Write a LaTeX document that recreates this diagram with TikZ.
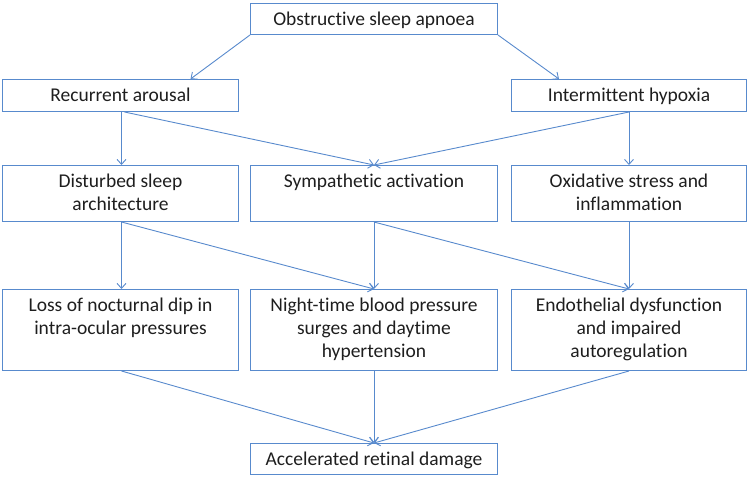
\documentclass[tikz,border=0pt]{standalone}
\usepackage{fontspec}
\setmainfont{Carlito}[Ligatures=NoCommon]
\usetikzlibrary{arrows.meta}
\definecolor{boxblue}{RGB}{88,138,205}
\definecolor{txt}{RGB}{30,30,30}
\newcommand\mlines[1]{\begin{tabular}[t]{@{}c@{}}#1\end{tabular}}
\begin{document}
\begin{tikzpicture}[x=1pt,y=-1pt,
  box/.style={draw=boxblue,line width=1pt,inner sep=0pt,anchor=north west,
    text=txt,font=\fontsize{19.5}{23}\selectfont,text height=22pt},
  conn/.style={draw=boxblue,line width=0.9pt,-{Straight Barb[length=5pt,width=9pt]}}]
\useasboundingbox (0,0) rectangle (748,477);
% row 1
\node[box,minimum width=247pt,text depth=9pt] (osa) at (250,3) {Obstructive sleep apnoea};
% row 2
\node[box,minimum width=236pt,text depth=10pt] (ra) at (2,79) {Recurrent arousal};
\node[box,minimum width=235pt,text depth=10pt] (ih) at (511,79) {Intermittent hypoxia};
% row 3
\node[box,minimum width=236pt,text depth=34pt] (dsa) at (2,165) {\mlines{Disturbed sleep\\architecture}};
\node[box,minimum width=247pt,text depth=34pt] (sa) at (250,165) {Sympathetic activation};
\node[box,minimum width=235pt,text depth=34pt] (osi) at (511,165) {\mlines{Oxidative stress and\\inflammation}};
% row 4
\node[box,minimum width=236pt,text depth=59pt] (loss) at (2,289) {\mlines{Loss of nocturnal dip in\\intra-ocular pressures}};
\node[box,minimum width=247pt,text depth=59pt] (night) at (250,289) {\mlines{Night-time blood pressure\\surges and daytime\\hypertension}};
\node[box,minimum width=235pt,text depth=59pt] (endo) at (511,289) {\mlines{Endothelial dysfunction\\and impaired\\autoregulation}};
% row 5
\node[box,minimum width=247pt,text depth=9pt] (acc) at (250,443) {Accelerated retinal damage};
% connectors
\draw[conn] (osa.south west) -- ([xshift=70pt]ra.north);
\draw[conn] (osa.south east) -- ([xshift=-70pt]ih.north);
\draw[conn] ([xshift=1pt]ra.south) -- ([xshift=1pt]dsa.north);
\draw[conn] ([xshift=4pt]ra.south) -- (sa.north);
\draw[conn] (ih.south) -- (sa.north);
\draw[conn] (ih.south) -- (osi.north);
\draw[conn] ([xshift=1pt]dsa.south) -- ([xshift=1pt]loss.north);
\draw[conn] ([xshift=1pt]dsa.south) -- (night.north);
\draw[conn] (sa.south) -- (night.north);
\draw[conn] (sa.south) -- (endo.north);
\draw[conn] (osi.south) -- (endo.north);
\draw[conn] ([xshift=1pt]loss.south) -- (acc.north);
\draw[conn] (night.south) -- (acc.north);
\draw[conn] (endo.south) -- (acc.north);
\end{tikzpicture}
\end{document}
